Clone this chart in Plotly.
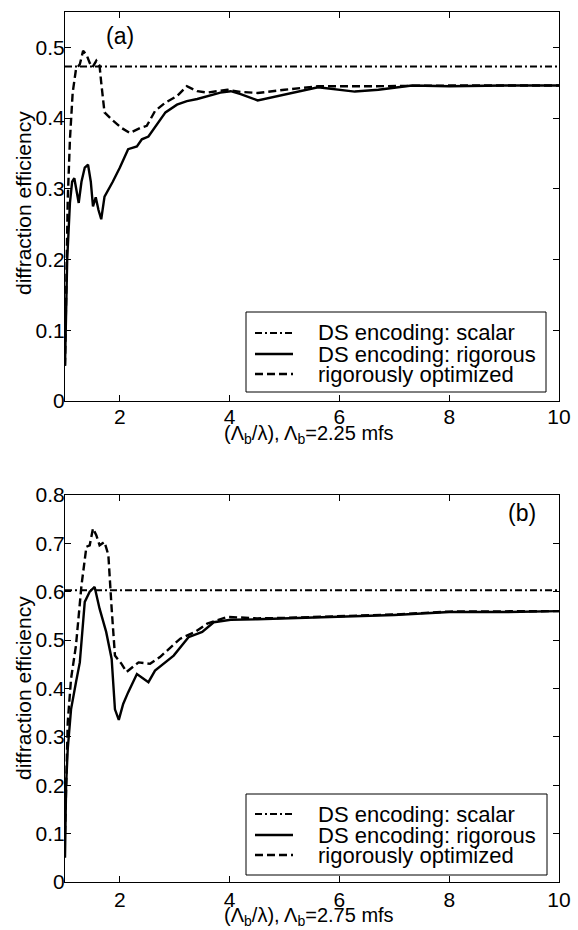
import plotly.graph_objects as go

# ---------------- data: panel (a) ----------------
a_scalar_y = 0.473
a_rig_x = [1.00, 1.04, 1.09, 1.13, 1.17, 1.22, 1.25, 1.30, 1.36, 1.42, 1.47, 1.51, 1.56, 1.61, 1.66,
           1.72, 1.80, 1.87, 2.00, 2.15, 2.31, 2.40, 2.52, 2.67, 2.83, 3.04, 3.22, 3.41, 3.59, 3.83,
           4.02, 4.20, 4.51, 4.94, 5.61, 6.28, 6.71, 7.32, 8.00, 9.00, 10.00]
a_rig_y = [0.05, 0.20, 0.28, 0.31, 0.315, 0.29, 0.28, 0.31, 0.33, 0.334, 0.31, 0.275, 0.288, 0.27, 0.257,
           0.289, 0.300, 0.310, 0.330, 0.356, 0.360, 0.370, 0.374, 0.391, 0.408, 0.419, 0.424, 0.427, 0.431, 0.436,
           0.438, 0.434, 0.425, 0.432, 0.4435, 0.4375, 0.440, 0.446, 0.445, 0.446, 0.446]
a_opt_x = [1.00, 1.03, 1.05, 1.09, 1.14, 1.20, 1.27, 1.33, 1.39, 1.45, 1.50, 1.57, 1.63, 1.66, 1.72,
           1.85, 2.03, 2.18, 2.37, 2.49, 2.64, 2.83, 3.04, 3.22, 3.41, 3.59, 3.96, 4.20, 4.51, 5.00,
           5.36, 5.61, 6.50, 8.00, 10.00]
a_opt_y = [0.05, 0.20, 0.285, 0.37, 0.436, 0.469, 0.476, 0.495, 0.490, 0.478, 0.472, 0.481, 0.474, 0.450, 0.408,
           0.398, 0.386, 0.379, 0.386, 0.389, 0.410, 0.422, 0.431, 0.445, 0.438, 0.436, 0.440, 0.437, 0.4355, 0.440,
           0.4435, 0.445, 0.445, 0.446, 0.446]

# ---------------- data: panel (b) ----------------
b_scalar_y = 0.603
b_rig_x = [1.00, 1.02, 1.05, 1.11, 1.20, 1.27, 1.36, 1.45, 1.54, 1.63, 1.75, 1.85, 1.91, 1.98, 2.06,
           2.15, 2.31, 2.52, 2.64, 2.98, 3.25, 3.50, 3.71, 4.02, 4.50, 5.00, 6.00, 7.00, 8.00, 9.00, 10.00]
b_rig_y = [0.05, 0.20, 0.275, 0.357, 0.413, 0.454, 0.579, 0.600, 0.610, 0.565, 0.517, 0.461, 0.357, 0.335, 0.368,
           0.392, 0.430, 0.413, 0.437, 0.468, 0.506, 0.517, 0.537, 0.542, 0.543, 0.545, 0.548, 0.552, 0.558, 0.558, 0.560]
b_opt_x = [1.00, 1.05, 1.11, 1.20, 1.30, 1.39, 1.45, 1.51, 1.57, 1.63, 1.72, 1.79, 1.85, 1.91, 2.03,
           2.12, 2.34, 2.55, 2.73, 3.10, 3.37, 3.59, 3.96, 4.50, 5.00, 6.00, 7.00, 8.00, 9.00, 10.00]
b_opt_y = [0.10, 0.33, 0.42, 0.489, 0.613, 0.693, 0.696, 0.731, 0.717, 0.696, 0.703, 0.676, 0.565, 0.468, 0.451,
           0.434, 0.454, 0.451, 0.465, 0.503, 0.517, 0.534, 0.548, 0.545, 0.546, 0.550, 0.553, 0.559, 0.560, 0.560]

x_range = [1, 10]
x_ticks = [2, 4, 6, 8, 10]
a_yticks = [0, 0.1, 0.2, 0.3, 0.4, 0.5]
a_yticktext = ["0", "0.1", "0.2", "0.3", "0.4", "0.5"]
b_yticks = [0, 0.1, 0.2, 0.3, 0.4, 0.5, 0.6, 0.7, 0.8]
b_yticktext = ["0", "0.1", "0.2", "0.3", "0.4", "0.5", "0.6", "0.7", "0.8"]
names = ["DS encoding: scalar", "DS encoding: rigorous", "rigorously optimized"]
a_xtitle = "(Λ<sub>b</sub>/λ), Λ<sub>b</sub>=2.25 mfs"
b_xtitle = "(Λ<sub>b</sub>/λ), Λ<sub>b</sub>=2.75 mfs"
ytitle = "diffraction efficiency"

FONT = "Liberation Sans, Arial, Helvetica, sans-serif"
DASHDOT = "7px,3px,2px,3px"
DASH = "8px,4px"
STYLES = [dict(color="black", width=2, dash=DASHDOT),
          dict(color="black", width=2.4, dash="solid"),
          dict(color="black", width=2.4, dash=DASH)]

# page geometry (pixels)
W, H = 578, 930
ML, MR, MT, MB = 65, 19, 12, 48
PW, PH = W - ML - MR, H - MT - MB


def px_x(px):
    return (px - ML) / PW


def px_y(py):
    return (H - MB - py) / PH


fig = go.Figure()


def add_panel(xa, ya, scal, rx, ry, ox, oy):
    fig.add_trace(go.Scatter(x=x_range, y=[scal, scal], mode="lines", name=names[0],
                             line=STYLES[0], xaxis=xa, yaxis=ya, showlegend=False))
    fig.add_trace(go.Scatter(x=rx, y=ry, mode="lines", name=names[1],
                             line=STYLES[1], xaxis=xa, yaxis=ya, showlegend=False))
    fig.add_trace(go.Scatter(x=ox, y=oy, mode="lines", name=names[2],
                             line=STYLES[2], xaxis=xa, yaxis=ya, showlegend=False))


add_panel("x", "y", a_scalar_y, a_rig_x, a_rig_y, a_opt_x, a_opt_y)
add_panel("x2", "y2", b_scalar_y, b_rig_x, b_rig_y, b_opt_x, b_opt_y)

shapes = []
annotations = []


def add_legend(box_left, box_top, box_right, box_bottom, row_ys):
    shapes.append(dict(type="rect", xref="paper", yref="paper",
                       x0=px_x(box_left), x1=px_x(box_right),
                       y0=px_y(box_bottom), y1=px_y(box_top),
                       line=dict(color="black", width=1), fillcolor="white", layer="above"))
    for name, style, ry in zip(names, STYLES, row_ys):
        shapes.append(dict(type="line", xref="paper", yref="paper",
                           x0=px_x(box_left + 9), x1=px_x(box_left + 47),
                           y0=px_y(ry), y1=px_y(ry),
                           line=dict(color="black", width=style["width"], dash=style["dash"]),
                           layer="above"))
        annotations.append(dict(text=name, xref="paper", yref="paper",
                                x=px_x(box_left + 70), y=px_y(ry), xanchor="left", yanchor="middle",
                                showarrow=False, font=dict(family=FONT, size=22, color="black")))


add_legend(246, 312, 546, 392, [333, 354, 374])
add_legend(246, 794, 547, 875, [814, 835, 855])

# axis titles (placed as annotations for exact positions)
annotations += [
    dict(text=a_xtitle, xref="paper", yref="paper", x=px_x(309), y=px_y(434),
         xanchor="center", yanchor="middle", showarrow=False,
         font=dict(family=FONT, size=20, color="black")),
    dict(text=b_xtitle, xref="paper", yref="paper", x=px_x(309), y=px_y(917),
         xanchor="center", yanchor="middle", showarrow=False,
         font=dict(family=FONT, size=20, color="black")),
    dict(text=ytitle, xref="paper", yref="paper", x=px_x(23), y=px_y(203),
         xanchor="center", yanchor="middle", textangle=-90, showarrow=False,
         font=dict(family=FONT, size=21, color="black")),
    dict(text=ytitle, xref="paper", yref="paper", x=px_x(23), y=px_y(688),
         xanchor="center", yanchor="middle", textangle=-90, showarrow=False,
         font=dict(family=FONT, size=21, color="black")),
    dict(text="(a)", x=2.0, y=0.516, xref="x", yref="y", showarrow=False,
         font=dict(family=FONT, size=23, color="black")),
    dict(text="(b)", x=9.32, y=0.763, xref="x2", yref="y2", showarrow=False,
         font=dict(family=FONT, size=23, color="black")),
]

axis_common = dict(showline=True, linecolor="black", linewidth=1, mirror="ticks",
                   ticks="inside", ticklen=6, tickcolor="black", tickwidth=1,
                   showgrid=False, zeroline=False, automargin=False,
                   tickfont=dict(family=FONT, size=21, color="black"))

top_dom = [px_y(401), 1.0]
bot_dom = [0.0, px_y(495)]

fig.update_layout(
    width=W, height=H,
    margin=dict(l=ML, r=MR, t=MT, b=MB, autoexpand=False),
    paper_bgcolor="white", plot_bgcolor="white",
    font=dict(family=FONT, color="black"),
    showlegend=False,
    xaxis=dict(domain=[0, 1], range=x_range, anchor="y", tickvals=x_ticks,
               ticklabelstandoff=-3, **axis_common),
    yaxis=dict(domain=top_dom, range=[0, 0.55], anchor="x", tickvals=a_yticks, ticktext=a_yticktext,
               ticklabelstandoff=-5, **axis_common),
    xaxis2=dict(domain=[0, 1], range=x_range, anchor="y2", tickvals=x_ticks,
                ticklabelstandoff=-1, **axis_common),
    yaxis2=dict(domain=bot_dom, range=[0, 0.8], anchor="x2", tickvals=b_yticks, ticktext=b_yticktext,
                ticklabelstandoff=-5, **axis_common),
    shapes=shapes,
    annotations=annotations,
)

fig.write_html("out.html", config={"displayModeBar": False},
               post_script="document.body.style.margin='0';document.body.style.overflow='hidden';")
